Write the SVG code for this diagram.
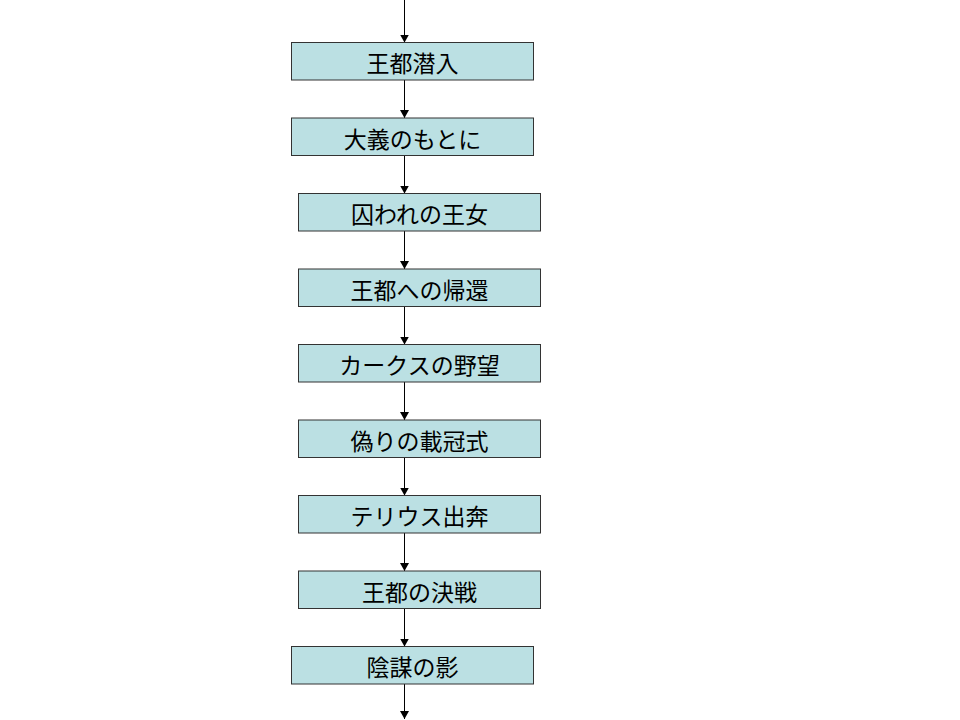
<svg xmlns="http://www.w3.org/2000/svg" width="960" height="720" viewBox="0 0 960 720">
<style>
.box{fill:#BBE0E3;stroke:#333333;stroke-width:1}
.lbl{font-family:"Noto Sans CJK JP","Noto Sans CJK SC",sans-serif;font-size:23px;fill:#000;text-anchor:middle}
.con{stroke:#000;stroke-width:1;fill:none;marker-end:url(#ah)}
</style>
<defs>
<marker id="ah" markerUnits="userSpaceOnUse" markerWidth="8" markerHeight="9" refX="8" refY="4.5" orient="auto">
<path d="M0,0 L8,4.5 L0,9 Z" fill="#000"/>
</marker>
</defs>
<rect width="960" height="720" fill="#fff"/>
<g id="connectors">
<line class="con" x1="404.5" y1="0" x2="404.5" y2="42.5"/>
<line class="con" x1="404.5" y1="79.5" x2="404.5" y2="118"/>
<line class="con" x1="404.5" y1="155" x2="404.5" y2="193.5"/>
<line class="con" x1="404.5" y1="230.5" x2="404.5" y2="269"/>
<line class="con" x1="404.5" y1="306" x2="404.5" y2="344.5"/>
<line class="con" x1="404.5" y1="381.5" x2="404.5" y2="420"/>
<line class="con" x1="404.5" y1="457" x2="404.5" y2="495.5"/>
<line class="con" x1="404.5" y1="532.5" x2="404.5" y2="571"/>
<line class="con" x1="404.5" y1="608" x2="404.5" y2="646.5"/>
<line class="con" x1="404.5" y1="683.5" x2="404.5" y2="719"/>
</g>
<g id="n1"><rect class="box" x="291.5" y="42.5" width="242" height="37.5"/><text class="lbl" x="412.5" y="72">王都潜入</text></g>
<g id="n2"><rect class="box" x="291.5" y="118" width="242" height="37.5"/><text class="lbl" x="412.5" y="147.5">大義のもとに</text></g>
<g id="n3"><rect class="box" x="298.5" y="193.5" width="242" height="37.5"/><text class="lbl" x="419.5" y="223">囚われの王女</text></g>
<g id="n4"><rect class="box" x="298.5" y="269" width="242" height="37.5"/><text class="lbl" x="419.5" y="298.5">王都への帰還</text></g>
<g id="n5"><rect class="box" x="298.5" y="344.5" width="242" height="37.5"/><text class="lbl" x="419.5" y="374">カークスの野望</text></g>
<g id="n6"><rect class="box" x="298.5" y="420" width="242" height="37.5"/><text class="lbl" x="419.5" y="449.5">偽りの載冠式</text></g>
<g id="n7"><rect class="box" x="298.5" y="495.5" width="242" height="37.5"/><text class="lbl" x="419.5" y="525">テリウス出奔</text></g>
<g id="n8"><rect class="box" x="298.5" y="571" width="242" height="37.5"/><text class="lbl" x="419.5" y="600.5">王都の決戦</text></g>
<g id="n9"><rect class="box" x="291.5" y="646.5" width="242" height="37.5"/><text class="lbl" x="412.5" y="676">陰謀の影</text></g>
</svg>
